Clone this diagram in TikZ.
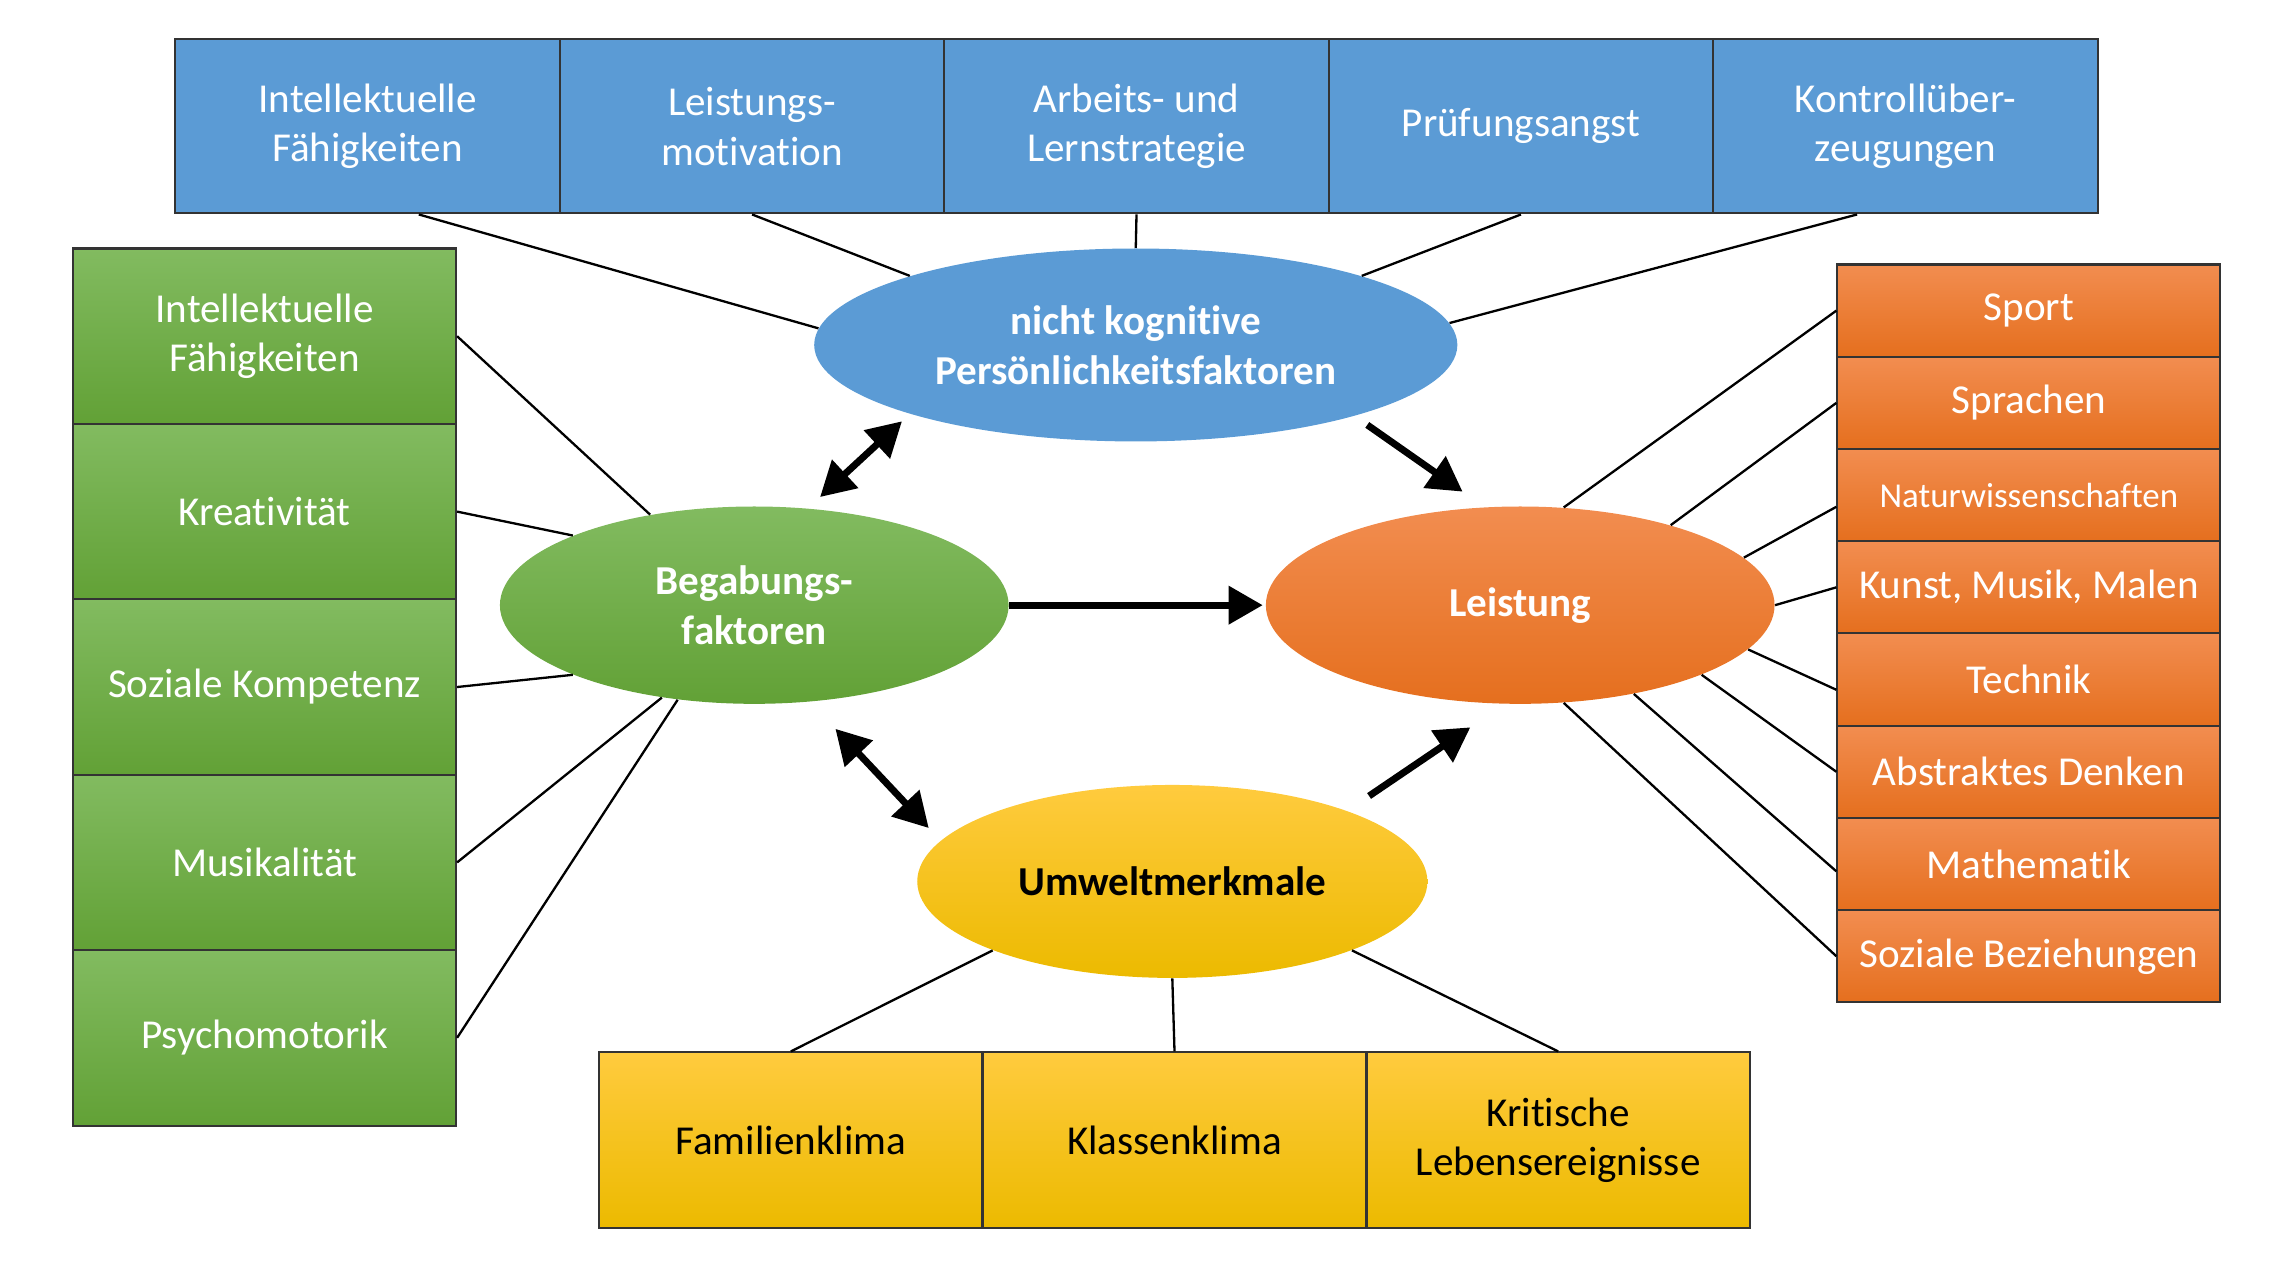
\documentclass[tikz,border=0pt]{standalone}
\usepackage{fontspec}
\setmainfont{Carlito}[Ligatures=NoCommon]
\usepackage{tikz}
\usetikzlibrary{shapes}
\usetikzlibrary{arrows}
\definecolor{boxblue}{RGB}{91,155,213}
\definecolor{greentop}{RGB}{130,187,96}
\definecolor{greenbot}{RGB}{98,161,54}
\definecolor{orangetop}{RGB}{242,141,80}
\definecolor{orangebot}{RGB}{229,111,30}
\definecolor{yellowtop}{RGB}{255,203,62}
\definecolor{yellowbot}{RGB}{236,186,0}
\tikzstyle{box}=[rectangle,draw=black!80,line width=0.8pt,inner sep=0mm,align=center,font=\fontsize{16}{19.3}\selectfont]
\tikzstyle{topbox}=[box,fill=boxblue,text=white,minimum width=52.6mm,minimum height=23.8mm]
\tikzstyle{leftbox}=[box,top color=greentop,bottom color=greenbot,text=white,minimum width=52.4mm,minimum height=24mm]
\tikzstyle{rightbox}=[box,top color=orangetop,bottom color=orangebot,text=white,minimum width=52.4mm,minimum height=12.62mm]
\tikzstyle{bottombox}=[box,top color=yellowtop,bottom color=yellowbot,text=black,minimum width=52.4mm,minimum height=24mm]
\tikzstyle{oval}=[ellipse,inner sep=0mm,align=center,font=\fontsize{16}{19.3}\selectfont\bfseries]
\tikzstyle{link}=[line width=0.9pt]
\tikzstyle{arrow}=[->,>=triangle 60,line width=2.7pt]
\tikzset{every picture/.style={
    x=0.2mm,y=-0.2mm
  }
}

\begin{document}
\begin{tikzpicture}
      \useasboundingbox (0,0) rectangle (1568,867);
      % top row
      \node[topbox] at (251.5,86.5) (t1) {Intellektuelle\\Fähigkeiten};
      \node[topbox] at (514.5,86.5) (t2) {Leistungs-\\motivation};
      \node[topbox] at (777.5,86.5) (t3) {Arbeits- und\\Lernstrategie};
      \node[topbox] at (1040.5,86.5) (t4) {Prüfungsangst};
      \node[topbox] at (1303.5,86.5) (t5) {Kontrollüber-\\zeugungen};
      % left column
      \node[leftbox] at (181,230) (g1) {Intellektuelle\\Fähigkeiten};
      \node[leftbox] at (181,350) (g2) {Kreativität};
      \node[leftbox] at (181,470) (g3) {Soziale Kompetenz};
      \node[leftbox] at (181,590) (g4) {Musikalität};
      \node[leftbox] at (181,710) (g5) {Psychomotorik};
      % right column
      \node[rightbox] at (1388,212.5) (o1) {Sport};
      \node[rightbox] at (1388,275.6) (o2) {Sprachen};
      \node[rightbox,font=\fontsize{13.6}{16}\selectfont] at (1388,338.7) (o3) {Naturwissenschaften};
      \node[rightbox] at (1388,401.8) (o4) {Kunst, Musik, Malen};
      \node[rightbox] at (1388,464.9) (o5) {Technik};
      \node[rightbox] at (1388,528) (o6) {Abstraktes Denken};
      \node[rightbox] at (1388,591.1) (o7) {Mathematik};
      \node[rightbox] at (1388,654.2) (o8) {Soziale Beziehungen};
      % bottom row
      \node[bottombox] at (541,780) (u1) {Familienklima};
      \node[bottombox] at (803.5,780) (u2) {Klassenklima};
      \node[bottombox] at (1066,780) (u3) {Kritische\\Lebensereignisse};
      % ellipses
      \node[oval,fill=boxblue,text=white,minimum width=88mm,minimum height=26.4mm] at (777,236) (pers) {nicht kognitive\\Persönlichkeitsfaktoren};
      \node[oval,top color=greentop,bottom color=greenbot,text=white,minimum width=69.6mm,minimum height=27mm] at (516,414) (beg) {Begabungs-\\faktoren};
      \node[oval,top color=orangetop,bottom color=orangebot,text=white,minimum width=69.6mm,minimum height=27mm] at (1040,414) (leis) {Leistung};
      \node[oval,top color=yellowtop,bottom color=yellowbot,text=black,minimum width=69.8mm,minimum height=26.4mm] at (802,603) (umw) {Umweltmerkmale};
      % lines
      \draw[link] ([xshift=7mm]t1.south) -- (pers.177);
      \draw[link] (t2.south) -- (pers.163);
      \draw[link] (t3.south) -- (pers.north);
      \draw[link] (t4.south) -- (pers.17);
      \draw[link] ([xshift=-6.6mm]t5.south) -- (pers.4);
      \draw[link] (g1.east) -- (beg.139);
      \draw[link] (g2.east) -- (beg.159);
      \draw[link] (g3.east) -- (beg.201);
      \draw[link] (g4.east) -- (beg.225);
      \draw[link] (g5.east) -- (beg.231);
      \draw[link] (leis.66) -- (o1.west);
      \draw[link] (leis.28) -- (o2.west);
      \draw[link] (leis.12) -- ([yshift=-1.6mm]o3.west);
      \draw[link] (leis.0) -- (o4.west);
      \draw[link] (leis.349) -- ([yshift=-1.4mm]o5.west);
      \draw[link] (leis.339) -- (o6.west);
      \draw[link] (leis.322) -- ([yshift=-1mm]o7.west);
      \draw[link] (leis.294) -- (o8.west);
      \draw[link] (umw.201) -- (u1.north);
      \draw[link] (umw.south) -- (u2.north);
      \draw[link] (umw.339) -- (u3.north);
      % arrows
      \draw[arrow,<->,shorten <=2.3mm,shorten >=1.5mm] (beg.61) -- (pers.197);
      \draw[arrow,shorten <=2.1mm,shorten >=3.7mm] (pers.342) -- (leis.110);
      \draw[arrow,shorten >=0.4mm] (beg.east) -- (leis.west);
      \draw[arrow,<->,shorten <=5.1mm,shorten >=2.4mm] (beg.300) -- (umw.170);
      \draw[arrow,shorten <=3.6mm,shorten >=5.7mm] (umw.22) -- (leis.261);
\end{tikzpicture}
\end{document}
